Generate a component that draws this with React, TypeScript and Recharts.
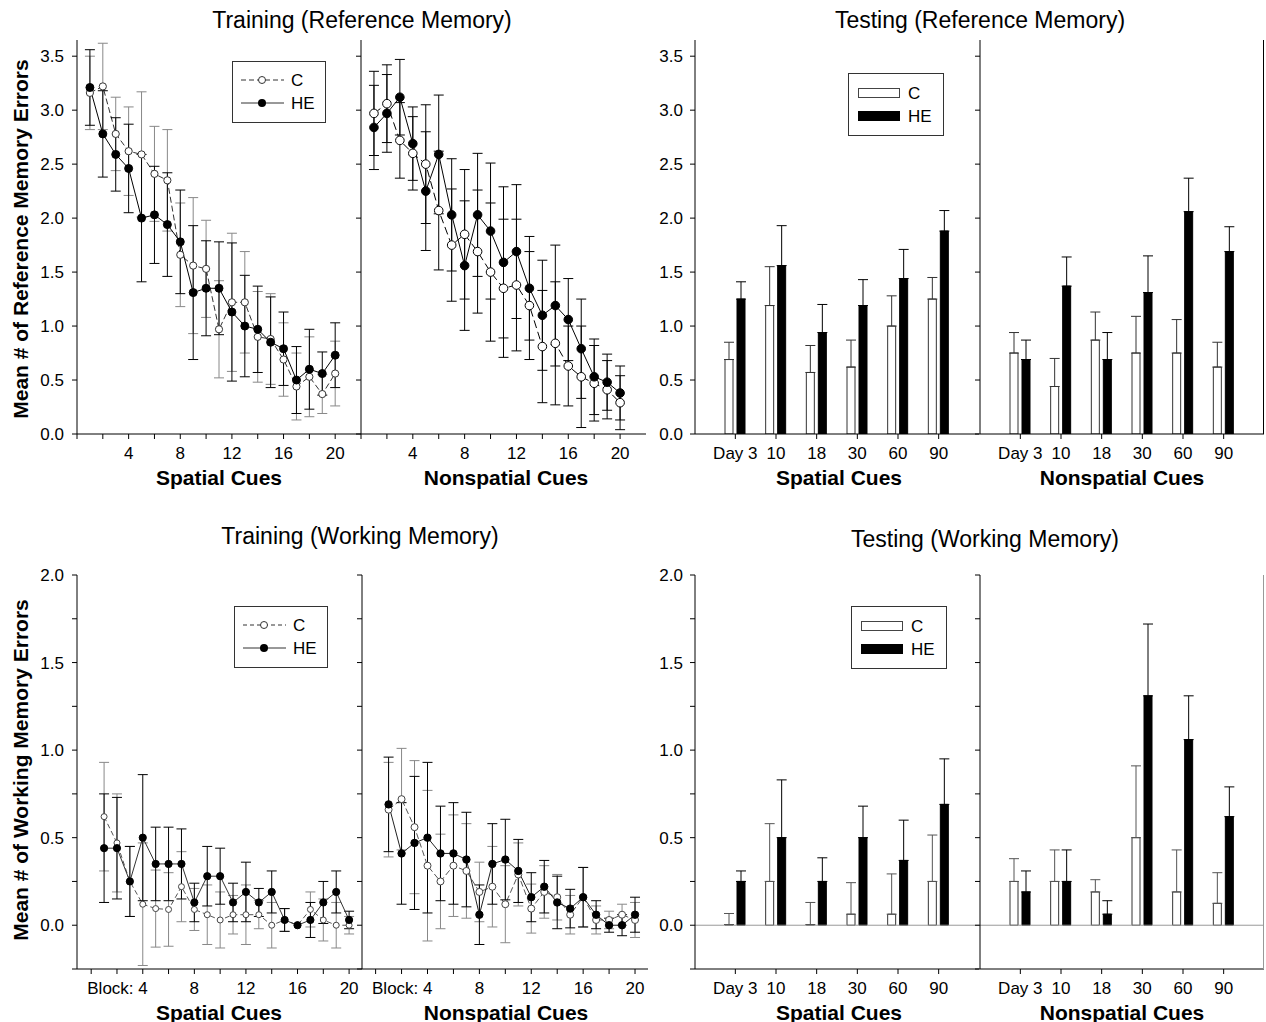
import React from 'react';
import { ComposedChart, Line, Bar, XAxis, YAxis, ErrorBar, ReferenceLine } from 'recharts';

const FONT = '"Liberation Sans", Arial, Helvetica, sans-serif';

// blocks of training trials, and testing days
const blocks = [1, 2, 3, 4, 5, 6, 7, 8, 9, 10, 11, 12, 13, 14, 15, 16, 17, 18, 19, 20];
const blockTicks = [0, 2, 4, 6, 8, 10, 12, 14, 16, 18, 20];
const blockLabels = [4, 8, 12, 16, 20];
const days = ['Day 3', '10', '18', '30', '60', '90'];

// Training, reference memory
const refSpC = [3.16, 3.22, 2.78, 2.62, 2.59, 2.41, 2.35, 1.66, 1.56, 1.53, 0.97, 1.22, 1.22, 0.9, 0.88, 0.69, 0.44, 0.53, 0.37, 0.56];
const refSpCErr = [0.34, 0.4, 0.34, 0.41, 0.58, 0.44, 0.47, 0.48, 0.63, 0.45, 0.45, 0.64, 0.47, 0.42, 0.42, 0.34, 0.31, 0.37, 0.18, 0.3];
const refSpHE = [3.21, 2.78, 2.59, 2.46, 2.0, 2.03, 1.94, 1.78, 1.31, 1.35, 1.35, 1.13, 1.0, 0.97, 0.85, 0.79, 0.5, 0.6, 0.56, 0.73];
const refSpHEErr = [0.35, 0.4, 0.34, 0.41, 0.59, 0.45, 0.48, 0.48, 0.62, 0.44, 0.43, 0.64, 0.47, 0.4, 0.42, 0.34, 0.31, 0.37, 0.2, 0.3];

const refNsC = [2.97, 3.06, 2.72, 2.6, 2.5, 2.07, 1.75, 1.85, 1.69, 1.5, 1.35, 1.38, 1.19, 0.81, 0.84, 0.63, 0.53, 0.47, 0.41, 0.29];
const refNsCErr = [0.39, 0.36, 0.35, 0.34, 0.55, 0.55, 0.52, 0.6, 0.57, 0.64, 0.64, 0.61, 0.5, 0.52, 0.57, 0.37, 0.47, 0.35, 0.27, 0.25];
const refNsHE = [2.84, 2.97, 3.12, 2.69, 2.25, 2.59, 2.03, 1.56, 2.03, 1.88, 1.59, 1.69, 1.35, 1.1, 1.19, 1.06, 0.79, 0.53, 0.48, 0.38];
const refNsHEErr = [0.39, 0.36, 0.35, 0.34, 0.55, 0.55, 0.52, 0.6, 0.57, 0.63, 0.7, 0.62, 0.48, 0.51, 0.56, 0.38, 0.46, 0.35, 0.26, 0.25];

// Testing, reference memory (upper error only)
const tRefSpC = [0.69, 1.19, 0.57, 0.62, 1.0, 1.25];
const tRefSpCErr = [0.16, 0.36, 0.25, 0.25, 0.28, 0.2];
const tRefSpHE = [1.25, 1.56, 0.94, 1.19, 1.44, 1.88];
const tRefSpHEErr = [0.16, 0.37, 0.26, 0.24, 0.27, 0.19];
const tRefNsC = [0.75, 0.44, 0.87, 0.75, 0.75, 0.62];
const tRefNsCErr = [0.19, 0.26, 0.26, 0.34, 0.31, 0.23];
const tRefNsHE = [0.69, 1.37, 0.69, 1.31, 2.06, 1.69];
const tRefNsHEErr = [0.18, 0.27, 0.25, 0.34, 0.31, 0.23];

// Training, working memory
const wmSpC = [0.62, 0.47, 0.25, 0.12, 0.095, 0.09, 0.22, 0.09, 0.06, 0.03, 0.06, 0.06, 0.06, 0.0, 0.03, 0.0, 0.09, 0.03, 0.0, 0.0];
const wmSpCErr = [0.31, 0.28, 0.2, 0.35, 0.22, 0.21, 0.2, 0.12, 0.17, 0.16, 0.11, 0.17, 0.08, 0.13, 0.065, 0, 0.1, 0.12, 0.13, 0.05];
const wmSpHE = [0.44, 0.44, 0.25, 0.5, 0.35, 0.35, 0.35, 0.13, 0.28, 0.28, 0.13, 0.19, 0.13, 0.19, 0.03, 0.0, 0.03, 0.13, 0.19, 0.03];
const wmSpHEErr = [0.31, 0.29, 0.2, 0.36, 0.21, 0.21, 0.2, 0.11, 0.17, 0.16, 0.11, 0.17, 0.08, 0.12, 0.065, 0, 0.1, 0.12, 0.12, 0.05];

const wmNsC = [0.66, 0.72, 0.56, 0.34, 0.25, 0.34, 0.31, 0.19, 0.22, 0.12, 0.29, 0.095, 0.19, 0.16, 0.06, 0.16, 0.03, 0.03, 0.06, 0.03];
const wmNsCErr = [0.27, 0.29, 0.38, 0.43, 0.27, 0.29, 0.27, 0.17, 0.23, 0.22, 0.18, 0.14, 0.15, 0.13, 0.11, 0.17, 0.08, 0.05, 0.06, 0.1];
const wmNsHE = [0.69, 0.41, 0.47, 0.5, 0.41, 0.41, 0.375, 0.06, 0.35, 0.375, 0.31, 0.16, 0.22, 0.13, 0.095, 0.16, 0.06, 0.0, 0.0, 0.06];
const wmNsHEErr = [0.27, 0.29, 0.38, 0.43, 0.27, 0.29, 0.27, 0.17, 0.23, 0.23, 0.18, 0.14, 0.15, 0.15, 0.11, 0.17, 0.08, 0.04, 0.06, 0.1];

// Testing, working memory (C is ~0 on day 3 and 18)
const tWmSpC = [0.004, 0.25, 0.004, 0.063, 0.063, 0.25];
const tWmSpCErr = [0.063, 0.33, 0.126, 0.18, 0.23, 0.265];
const tWmSpHE = [0.25, 0.5, 0.25, 0.5, 0.37, 0.69];
const tWmSpHEErr = [0.06, 0.33, 0.135, 0.18, 0.23, 0.26];
const tWmNsC = [0.25, 0.25, 0.19, 0.5, 0.19, 0.125];
const tWmNsCErr = [0.13, 0.18, 0.07, 0.41, 0.24, 0.175];
const tWmNsHE = [0.19, 0.25, 0.063, 1.31, 1.06, 0.62];
const tWmNsHEErr = [0.12, 0.18, 0.077, 0.41, 0.25, 0.17];

const refTicks = [0, 0.5, 1, 1.5, 2, 2.5, 3, 3.5];
const wmTicks = [-0.25, 0, 0.25, 0.5, 0.75, 1, 1.25, 1.5, 1.75, 2];

const mkTrain = (c: number[], cErr: number[], he: number[], heErr: number[]) =>
  blocks.map((b, i) => ({ block: b, c: c[i], cErr: cErr[i], he: he[i], heErr: heErr[i] }));
const mkTest = (c: number[], cErr: number[], he: number[], heErr: number[]) =>
  days.map((d, i) => ({ day: d, c: c[i], cErr: [0, cErr[i]], he: he[i], heErr: [0, heErr[i]] }));

const tickStyle = { fontSize: 17, fill: '#000', fontFamily: FONT };

function BlockTick(props: any) {
  const { x, y, payload, withBlock } = props;
  const v = payload.value;
  if (!blockLabels.includes(v)) return <g />;
  if (withBlock && v === blockLabels[0])
    return <text x={x + 5} y={y} dy="0.71em" textAnchor="end" {...tickStyle}>{`Block: ${v}`}</text>;
  return <text x={x} y={y} dy="0.71em" textAnchor="middle" {...tickStyle}>{v}</text>;
}

const fmtRef = (v: number) => v.toFixed(1);
const fmtWm = (v: number) => (v >= 0 && Math.abs(v * 2 - Math.round(v * 2)) < 1e-6 ? v.toFixed(1) : '');

function TrainPanel(p: any) {
  return (
    <div style={{ position: 'absolute', left: p.x, top: p.top }}>
      <ComposedChart width={p.yw + p.plotW} height={434} data={p.data} margin={{ top: 10, right: 0, bottom: 0, left: 0 }}>
        <XAxis type="number" dataKey="block" domain={p.xDomain} ticks={blockTicks} interval={0} allowDataOverflow
          stroke="#000" tickSize={5} tickMargin={8} height={30}
          tick={(t: any) => <BlockTick {...t} withBlock={p.withBlock} />} />
        <YAxis type="number" domain={p.yDomain} ticks={p.yTicks} interval={0} allowDataOverflow width={p.yw}
          stroke="#000" tickSize={5} tickMargin={8}
          tick={p.yLabels ? tickStyle : () => <g />} tickFormatter={p.fmt} />
        <Line dataKey="c" type="linear" stroke={p.cLine} strokeWidth={1} strokeDasharray={p.dash}
          dot={{ r: p.cR, fill: '#fff', stroke: p.cDot, strokeWidth: 1, strokeDasharray: 'none' }}
          activeDot={false} isAnimationActive={false}>
          <ErrorBar dataKey="cErr" direction="y" width={5} stroke={p.cErrCol} strokeWidth={1} />
        </Line>
        <Line dataKey="he" type="linear" stroke={p.heLine} strokeWidth={1}
          dot={{ r: p.heR, fill: '#000', stroke: '#000', strokeWidth: 1 }}
          activeDot={false} isAnimationActive={false}>
          <ErrorBar dataKey="heErr" direction="y" width={5} stroke="#000" strokeWidth={1} />
        </Line>
      </ComposedChart>
    </div>
  );
}

function TestPanel(p: any) {
  return (
    <div style={{ position: 'absolute', left: p.x, top: p.top }}>
      <ComposedChart width={p.yw + 284} height={434} data={p.data} margin={{ top: 10, right: 0, bottom: 0, left: 0 }} barGap={4}>
        <XAxis dataKey="day" type="category" padding={{ left: 20, right: 20 }} interval={0}
          stroke="#000" tickSize={5} tickMargin={8} height={30} tick={tickStyle} />
        <YAxis type="number" domain={p.yDomain} ticks={p.yTicks} interval={0} allowDataOverflow width={p.yw}
          stroke="#000" tickSize={5} tickMargin={7}
          tick={p.yLabels ? tickStyle : () => <g />} tickFormatter={p.fmt} />
        {p.zero && <ReferenceLine y={0} stroke="#999" strokeWidth={1} />}
        <Bar dataKey="c" fill="#fff" stroke="#333" strokeWidth={1} barSize={8} isAnimationActive={false}>
          <ErrorBar dataKey="cErr" direction="y" width={5} stroke={p.cErrCol} strokeWidth={1} />
        </Bar>
        <Bar dataKey="he" fill="#000" stroke="#000" strokeWidth={1} barSize={8} isAnimationActive={false}>
          <ErrorBar dataKey="heErr" direction="y" width={5} stroke="#000" strokeWidth={1} />
        </Bar>
      </ComposedChart>
    </div>
  );
}

function Txt({ x, y, size, bold, rotate, children }: any) {
  return (
    <div style={{
      position: 'absolute', left: x, top: y, transform: `translate(-50%, -50%)${rotate ? ' rotate(-90deg)' : ''}`,
      fontSize: size, fontWeight: bold ? 700 : 400, whiteSpace: 'nowrap', lineHeight: 1, color: '#000',
    }}>{children}</div>
  );
}

function LineLegend({ x, y, dash }: any) {
  return (
    <svg style={{ position: 'absolute', left: x, top: y }} width={96} height={64} fontFamily={FONT}>
      <rect x={0.5} y={0.5} width={93} height={61} fill="#fff" stroke="#333" />
      <line x1={9} x2={52} y1={19} y2={19} stroke="#333" strokeDasharray={dash} />
      <circle cx={30} cy={19} r={3.5} fill="#fff" stroke="#333" />
      <text x={59} y={19} dy="0.35em" fontSize={17}>C</text>
      <line x1={9} x2={52} y1={42} y2={42} stroke="#333" />
      <circle cx={30} cy={42} r={4} fill="#000" />
      <text x={59} y={42} dy="0.35em" fontSize={17}>HE</text>
    </svg>
  );
}

function BarLegend({ x, y }: any) {
  return (
    <svg style={{ position: 'absolute', left: x, top: y }} width={98} height={64} fontFamily={FONT}>
      <rect x={0.5} y={0.5} width={95} height={62} fill="#fff" stroke="#333" />
      <rect x={10.5} y={15.5} width={41} height={9} fill="#fff" stroke="#444" />
      <text x={60} y={20} dy="0.35em" fontSize={17}>C</text>
      <rect x={10} y={38} width={42} height={10} fill="#000" />
      <text x={60} y={43} dy="0.35em" fontSize={17}>HE</text>
    </svg>
  );
}

export default function App() {
  const refDomain = [0, 3.65];
  const wmDomain = [-0.25, 2];
  return (
    <div style={{ position: 'absolute', left: 0, top: 0, width: 1266, height: 1022, background: '#fff', fontFamily: FONT, overflow: 'hidden' }}>
      {/* top row */}
      <TrainPanel x={0} top={30} yw={77} plotW={284} data={mkTrain(refSpC, refSpCErr, refSpHE, refSpHEErr)}
        xDomain={[0, 22]} yDomain={refDomain} yTicks={refTicks} yLabels fmt={fmtRef}
        cLine="#333" cDot="#333" dash="6 3" cErrCol="#888" heLine="#000" cR={3.6} heR={4} />
      <TrainPanel x={351} top={30} yw={10} plotW={285} data={mkTrain(refNsC, refNsCErr, refNsHE, refNsHEErr)}
        xDomain={[0, 22]} yDomain={refDomain} yTicks={refTicks} fmt={fmtRef}
        cLine="#000" cDot="#000" dash="8 4" cErrCol="#000" heLine="#000" cR={4.3} heR={4.3} />
      <TestPanel x={635} top={30} yw={60} data={mkTest(tRefSpC, tRefSpCErr, tRefSpHE, tRefSpHEErr)}
        yDomain={refDomain} yTicks={refTicks} yLabels fmt={fmtRef} cErrCol="#333" />
      <TestPanel x={970} top={30} yw={10} data={mkTest(tRefNsC, tRefNsCErr, tRefNsHE, tRefNsHEErr)}
        yDomain={refDomain} yTicks={refTicks} fmt={fmtRef} cErrCol="#333" />
      <div style={{ position: 'absolute', left: 1263, top: 40, width: 1, height: 394, background: '#000' }} />

      {/* bottom row */}
      <TrainPanel x={0} top={565} yw={77} plotW={285} data={mkTrain(wmSpC, wmSpCErr, wmSpHE, wmSpHEErr)}
        xDomain={[-1.1, 21]} yDomain={wmDomain} yTicks={wmTicks} yLabels fmt={fmtWm} withBlock
        cLine="#555" cDot="#444" dash="5 3" cErrCol="#888" heLine="#333" cR={3} heR={3.6} />
      <TrainPanel x={352} top={565} yw={10} plotW={286} data={mkTrain(wmNsC, wmNsCErr, wmNsHE, wmNsHEErr)}
        xDomain={[-1.05, 21]} yDomain={wmDomain} yTicks={wmTicks} fmt={fmtWm} withBlock
        cLine="#555" cDot="#444" dash="6 3" cErrCol="#888" heLine="#222" cR={3.5} heR={3.7} />
      <TestPanel x={635} top={565} yw={60} data={mkTest(tWmSpC, tWmSpCErr, tWmSpHE, tWmSpHEErr)}
        yDomain={wmDomain} yTicks={wmTicks} yLabels fmt={fmtWm} zero cErrCol="#555" />
      <TestPanel x={970} top={565} yw={10} data={mkTest(tWmNsC, tWmNsCErr, tWmNsHE, tWmNsHEErr)}
        yDomain={wmDomain} yTicks={wmTicks} fmt={fmtWm} zero cErrCol="#555" />
      <div style={{ position: 'absolute', left: 1263, top: 575, width: 1, height: 394, background: '#999' }} />

      {/* legends */}
      <LineLegend x={232} y={61} dash="5 3" />
      <LineLegend x={234} y={606} dash="4 3" />
      <BarLegend x={848} y={73} />
      <BarLegend x={851} y={606} />

      {/* titles and axis labels */}
      <Txt x={362} y={20} size={23}>Training (Reference Memory)</Txt>
      <Txt x={980} y={20} size={23}>Testing (Reference Memory)</Txt>
      <Txt x={360} y={536} size={23}>Training (Working Memory)</Txt>
      <Txt x={985} y={539} size={23}>Testing (Working Memory)</Txt>
      <Txt x={20} y={239} size={21} bold rotate>Mean # of Reference Memory Errors</Txt>
      <Txt x={20} y={770} size={21} bold rotate>Mean # of Working Memory Errors</Txt>
      <Txt x={219} y={477} size={21} bold>Spatial Cues</Txt>
      <Txt x={506} y={477} size={21} bold>Nonspatial Cues</Txt>
      <Txt x={839} y={477} size={21} bold>Spatial Cues</Txt>
      <Txt x={1122} y={477} size={21} bold>Nonspatial Cues</Txt>
      <Txt x={219} y={1012} size={21} bold>Spatial Cues</Txt>
      <Txt x={506} y={1012} size={21} bold>Nonspatial Cues</Txt>
      <Txt x={839} y={1012} size={21} bold>Spatial Cues</Txt>
      <Txt x={1122} y={1012} size={21} bold>Nonspatial Cues</Txt>
    </div>
  );
}
